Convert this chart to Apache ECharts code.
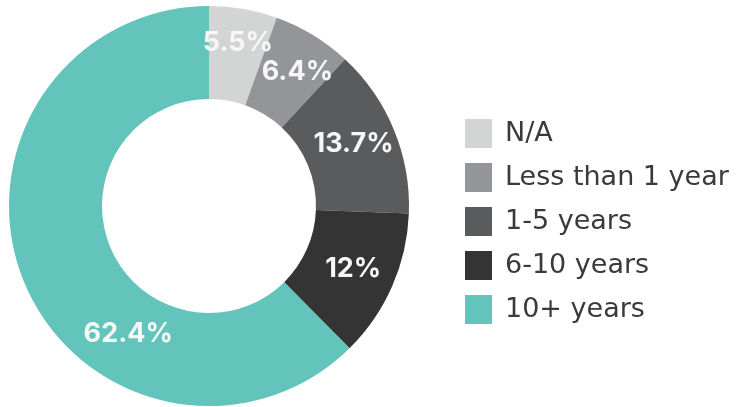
<!DOCTYPE html>
<html>
<head>
<meta charset="utf-8">
<script src="https://cdn.jsdelivr.net/npm/echarts@6/dist/echarts.min.js"></script>
<style>
  html, body { margin: 0; padding: 0; background: #ffffff; }
  #chart { width: 743px; height: 407px; }
</style>
</head>
<body>
<div id="chart"></div>
<script>
// Years of experience breakdown (percent of respondents)
const categories = ['N/A', 'Less than 1 year', '1-5 years', '6-10 years', '10+ years'];
const shares = [5.5, 6.4, 13.7, 12, 62.4];

const sliceColors = ['#d3d5d4', '#939598', '#5a5b5d', '#333433', '#62c4bb'];
// nudges for the in-ring percentage labels
const labelNudge = [[2, -9], [7, 0], [0, -2], [1, 0], [64, 68]];

const chart = echarts.init(document.getElementById('chart'));

chart.setOption({
  animation: false,
  legend: {
    orient: 'vertical',
    left: 465,
    top: 119,
    padding: 0,
    itemWidth: 27,
    itemHeight: 29,
    itemGap: 15,
    icon: 'rect',
    selectedMode: false,
    textStyle: {
      fontFamily: 'DejaVu Sans',
      fontSize: 27,
      color: '#3a3a3a',
      lineHeight: 29,
      padding: [0, 0, 0, 8]
    },
    data: categories
  },
  series: [{
    type: 'pie',
    center: [209, 206],
    radius: [107, 200],
    startAngle: 90,
    clockwise: true,
    silent: true,
    label: {
      show: true,
      position: 'inside',
      color: '#f7f7f7',
      fontFamily: 'Inter',
      fontWeight: 700,
      fontSize: 27,
      formatter: p => p.value + '%'
    },
    labelLine: { show: false },
    data: categories.map((name, i) => ({
      name: name,
      value: shares[i],
      itemStyle: { color: sliceColors[i] },
      label: { offset: labelNudge[i] }
    }))
  }]
});
</script>
</body>
</html>
